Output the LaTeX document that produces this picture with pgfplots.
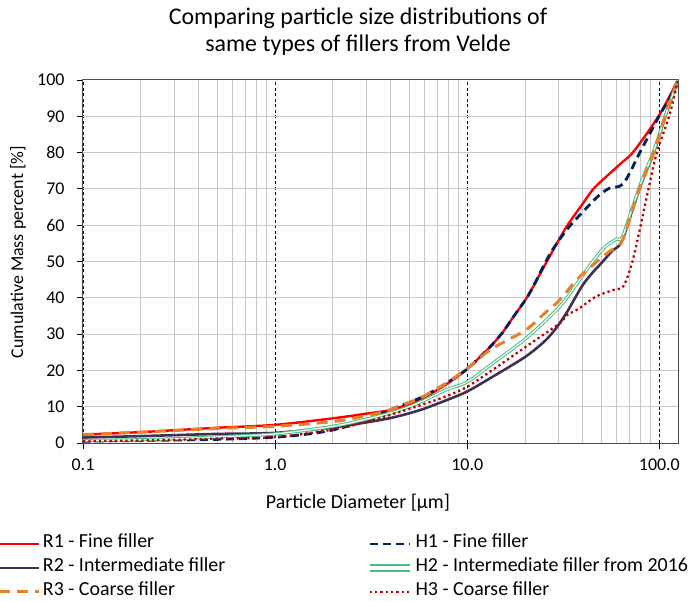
\documentclass[border=0pt]{standalone}
\usepackage{fontspec}
\setmainfont{Carlito}
\usepackage{pgfplots}
\pgfplotsset{compat=1.18}

\definecolor{rOne}{RGB}{255,0,0}
\definecolor{hOne}{RGB}{0,32,96}
\definecolor{rTwo}{RGB}{64,49,82}
\definecolor{hTwo}{RGB}{70,190,130}
\definecolor{rThree}{RGB}{232,128,40}
\definecolor{hThree}{RGB}{192,0,0}
\definecolor{gridgray}{RGB}{200,200,200}

\begin{document}
\begin{tikzpicture}
\useasboundingbox (0,0) rectangle (692bp,602bp);
\begin{axis}[
  at={(83bp,159bp)}, anchor=south west,
  scale only axis, width=595bp, height=363bp,
  xmode=log, log basis x=10,
  xmin=0.1, xmax=125, ymin=0, ymax=100,
  xtick={0.1,1,10,100}, xticklabels={0.1,1.0,10.0,100.0},
  ytick={0,10,20,30,40,50,60,70,80,90,100},
  minor xtick={0.2,0.3,0.4,0.5,0.6,0.7,0.8,0.9,2,3,4,5,6,7,8,9,20,30,40,50,60,70,80,90},
  xmajorgrids, ymajorgrids, xminorgrids,
  major x grid style={black, line width=0.8bp, dash pattern=on 3bp off 2.5bp},
  major y grid style={gridgray, line width=1bp},
  minor x grid style={gridgray, line width=1bp},
  axis line style={black!70, line width=1bp},
  tick pos=left, tick align=outside,
  major tick length=6bp, minor tick length=0pt,
  tick style={black, line width=0.8bp},
  /pgf/number format/assume math mode=true,
  ticklabel style={font=\fontsize{18}{18}\selectfont},
  yticklabel style={xshift=-9bp},
  xticklabel style={yshift=-6bp},
  xlabel={Particle Diameter [µm]},
  ylabel={Cumulative Mass percent [\%]},
  every axis x label/.style={at={(axis description cs:0.462,-0.165)}, anchor=center, font=\fontsize{20}{20}\selectfont},
  every axis y label/.style={at={(axis description cs:-0.109,0.526)}, anchor=center, rotate=90, font=\fontsize{18}{18}\selectfont},
  legend columns=2,
  legend cell align=left,
  legend style={at={(axis description cs:-0.1429,-0.245)}, anchor=north west,
    draw=none, fill=none, inner sep=0pt, outer sep=0pt,
    font=\fontsize{20}{24}\selectfont, row sep=0bp, column sep=0bp,
    nodes={inner sep=2bp, text height=14bp, text depth=6bp}},
  legend image code/.code={\draw[#1] (0bp,0bp) -- (40bp,0bp);},
  every axis plot/.append style={smooth, tension=0.5, mark=none},
]

% R1 - fine filler
\addplot[rOne, line width=2.4bp] table {
x y
0.1 2.3
0.2 3.0
0.316 3.6
0.5 4.2
1 5.0
2 6.8
3 8.1
4 9.1
5 10.8
6 12.6
7.8 16.2
10 20.4
13 26.2
15.3 30.5
17.3 34.6
20 39.3
22 43
26.9 51.5
32.9 59.6
40 66
45 69.8
51 72.6
62 76.7
73.7 80.4
100 90.4
125 100
};
\addlegendentry{\makebox[321bp][l]{R1 - Fine filler}}

% H1 - fine filler
\addplot[hOne, line width=2.8bp, dash pattern=on 8bp off 5bp] table {
x y
0.1 0.5
0.2 0.7
0.5 1.0
1 1.6
1.5 2.5
2 3.6
3 6.2
4 9.2
5 11.2
6 13
7.8 16.5
10 20.4
13 26.2
15.3 30.5
17.3 34.6
20 39.3
22 43
26.9 52
32.9 58.7
40 63.7
48 68
55 70.2
65 71.5
80 80.5
100 90.2
113 95
125 100
};
\addlegendentry{H1 - Fine filler}

% R2 - intermediate filler
\addplot[rTwo, line width=2.6bp] table {
x y
0.1 1.5
0.2 1.9
0.316 2.2
0.5 2.5
1 2.8
2 4.3
3 5.7
4 6.9
5 8.2
6 9.5
7.8 11.8
10 14.2
13.6 18.3
20 23.7
25 27.8
28 30.6
30 32.7
33 36
36 39.5
40 43.6
45 47
50 49.6
57 53
63.5 55.3
72 63.8
80 71
94 80.4
108 90.4
125 100
};
\addlegendentry{\makebox[321bp][l]{R2 - Intermediate filler}}

% H2 - intermediate filler from 2016 (double line)
\addplot[hTwo, line width=1bp, double=white, double distance=1.2bp,
  legend image code/.code={%
    \draw[hTwo, line width=3.2bp] (0bp,0bp) -- (40bp,0bp);
    \draw[white, line width=1.2bp] (0bp,0bp) -- (40bp,0bp);}] table {
x y
0.1 0.7
0.2 0.9
0.316 1.2
0.5 1.7
1 2.5
2 4.6
3 6.6
4 8.3
5 10
6 11.8
7.8 14.7
10 16.8
13.6 22
20.3 28.9
30.3 37.6
38.5 45
45 50
52 54
60 56.2
64 56.6
72 64.5
80 71.5
94 80.8
108 90.6
125 100
};
\addlegendentry{H2 - Intermediate filler from 2016}

% R3 - coarse filler
\addplot[rThree, line width=3bp, dash pattern=on 11bp off 7bp] table {
x y
0.1 2.3
0.2 3.0
0.316 3.5
0.5 4.0
1 4.6
2 5.9
3 7.5
4 9.2
5 11.2
6 13
7.8 16.5
10 20.6
13 25.5
16 28.2
20.3 31.2
25 35.5
30.3 39.4
37 44.9
45 49
55 52.8
63.5 55.3
72 63.8
80 71
94 80.4
108 90.4
125 100
};
\addlegendentry{\makebox[321bp][l]{R3 - Coarse filler}}

% H3 - coarse filler
\addplot[hThree, line width=2.3bp, dash pattern=on 2.3bp off 3bp] table {
x y
0.1 0.45
0.2 0.7
0.316 0.9
0.5 1.2
1 1.6
2 3.7
3 5.8
4 7.8
5 9.4
6 10.8
7.8 12.9
10 15.5
13.6 20.2
20.3 26.6
30.3 33
33 35.2
38 37
47 40.4
58 42.2
65 43.2
72 49.5
79 58.7
87.5 69.7
97 80
113 90.4
125 100
};
\addlegendentry{H3 - Coarse filler}
\end{axis}

\node[align=center, font=\fontsize{24}{27}\selectfont] at (358bp,570bp)
  {Comparing particle size distributions of\\same types of fillers from Velde};
\end{tikzpicture}
\end{document}
